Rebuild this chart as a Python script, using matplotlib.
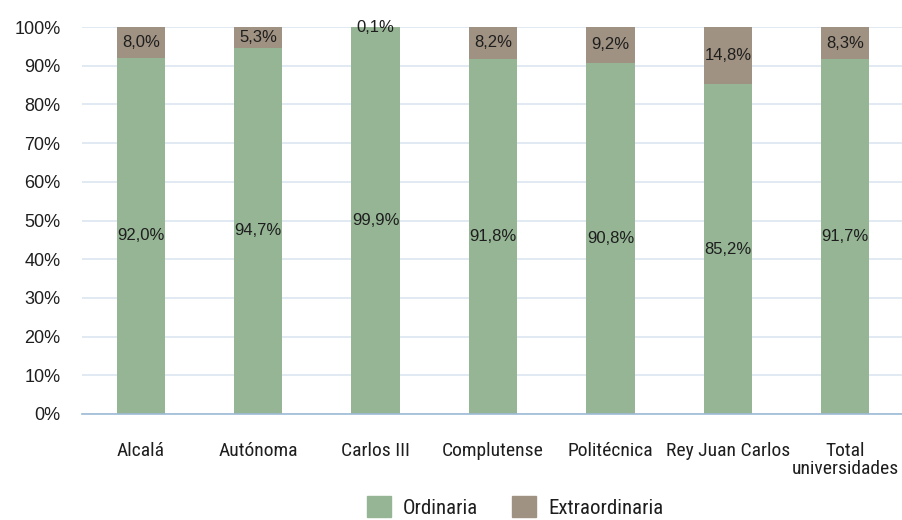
import matplotlib
matplotlib.use("Agg")
import matplotlib.pyplot as plt
from matplotlib.patches import Patch
from matplotlib import font_manager as fm
import numpy as np

categories = ["Alcalá", "Autónoma", "Carlos III", "Complutense", "Politécnica", "Rey Juan Carlos", "Total\nuniversidades"]
ordinaria = [92.0, 94.7, 99.9, 91.8, 90.8, 85.2, 91.7]
extraordinaria = [8.0, 5.3, 0.1, 8.2, 9.2, 14.8, 8.3]
yticks = [0, 10, 20, 30, 40, 50, 60, 70, 80, 90, 100]

available = {f.name for f in fm.fontManager.ttflist}
preferred = ["Roboto Condensed", "Arial Narrow", "Liberation Sans Narrow", "Archivo Narrow",
             "PT Sans Narrow", "IBM Plex Sans Condensed", "Fira Sans Condensed"]
cond = next((p for p in preferred if p in available), "DejaVu Sans")
plain = "Liberation Sans" if "Liberation Sans" in available else "DejaVu Sans"
plt.rcParams['font.family'] = [cond, 'DejaVu Sans']

c_ord = "#95b595"
c_ext = "#a09282"
c_txt = "#1e1e1e"

fig = plt.figure(figsize=(9.02, 5.2), dpi=100)
ax = fig.add_axes([82/902, 1-414/520, 822/902, 387/520])

x = np.arange(len(categories))
w = 0.41
ax.bar(x, ordinaria, w, color=c_ord, zorder=2)
ax.bar(x, extraordinaria, w, bottom=ordinaria, color=c_ext, zorder=2)

def fmt(v):
    return f"{v:.1f}".replace(".", ",") + "%"

for i in range(len(x)):
    ax.text(x[i], ordinaria[i]/2, fmt(ordinaria[i]), ha="center", va="center", fontsize=12,
            color=c_txt, family=[plain, 'DejaVu Sans'], zorder=3)
    ax.text(x[i], ordinaria[i] + extraordinaria[i]/2, fmt(extraordinaria[i]), ha="center", va="center",
            fontsize=12, color=c_txt, family=[plain, 'DejaVu Sans'], zorder=3)

ax.set_xlim(-0.5, len(x)-0.5)
ax.set_ylim(0, 100)
ax.set_yticks(yticks)
ax.set_yticklabels([f"{t}%" for t in yticks], fontsize=13, family=[plain, 'DejaVu Sans'], color=c_txt)
ax.set_xticks(x)
ax.set_xticklabels(categories, fontsize=14, linespacing=1.0, color=c_txt)
ax.tick_params(axis="both", length=0)
ax.tick_params(axis="x", pad=20)
ax.tick_params(axis="y", pad=15.5)
ax.grid(axis="y", color="#dce6f0", linewidth=1.2, zorder=0)
for s in ["top", "right", "left"]:
    ax.spines[s].set_visible(False)
ax.spines["bottom"].set_color("#9dbbd6")
ax.spines["bottom"].set_linewidth(1.2)

handles = [Patch(color=c_ord, label="Ordinaria"), Patch(color=c_ext, label="Extraordinaria")]
leg = fig.legend(handles=handles, loc="center", bbox_to_anchor=(515/902, 1-507/520), ncol=2, frameon=False,
                 fontsize=15, handlelength=1.15, handleheight=1.15, columnspacing=1.6, handletextpad=0.6)
for t in leg.get_texts():
    t.set_color(c_txt)

fig.savefig("out.png", dpi=100)
